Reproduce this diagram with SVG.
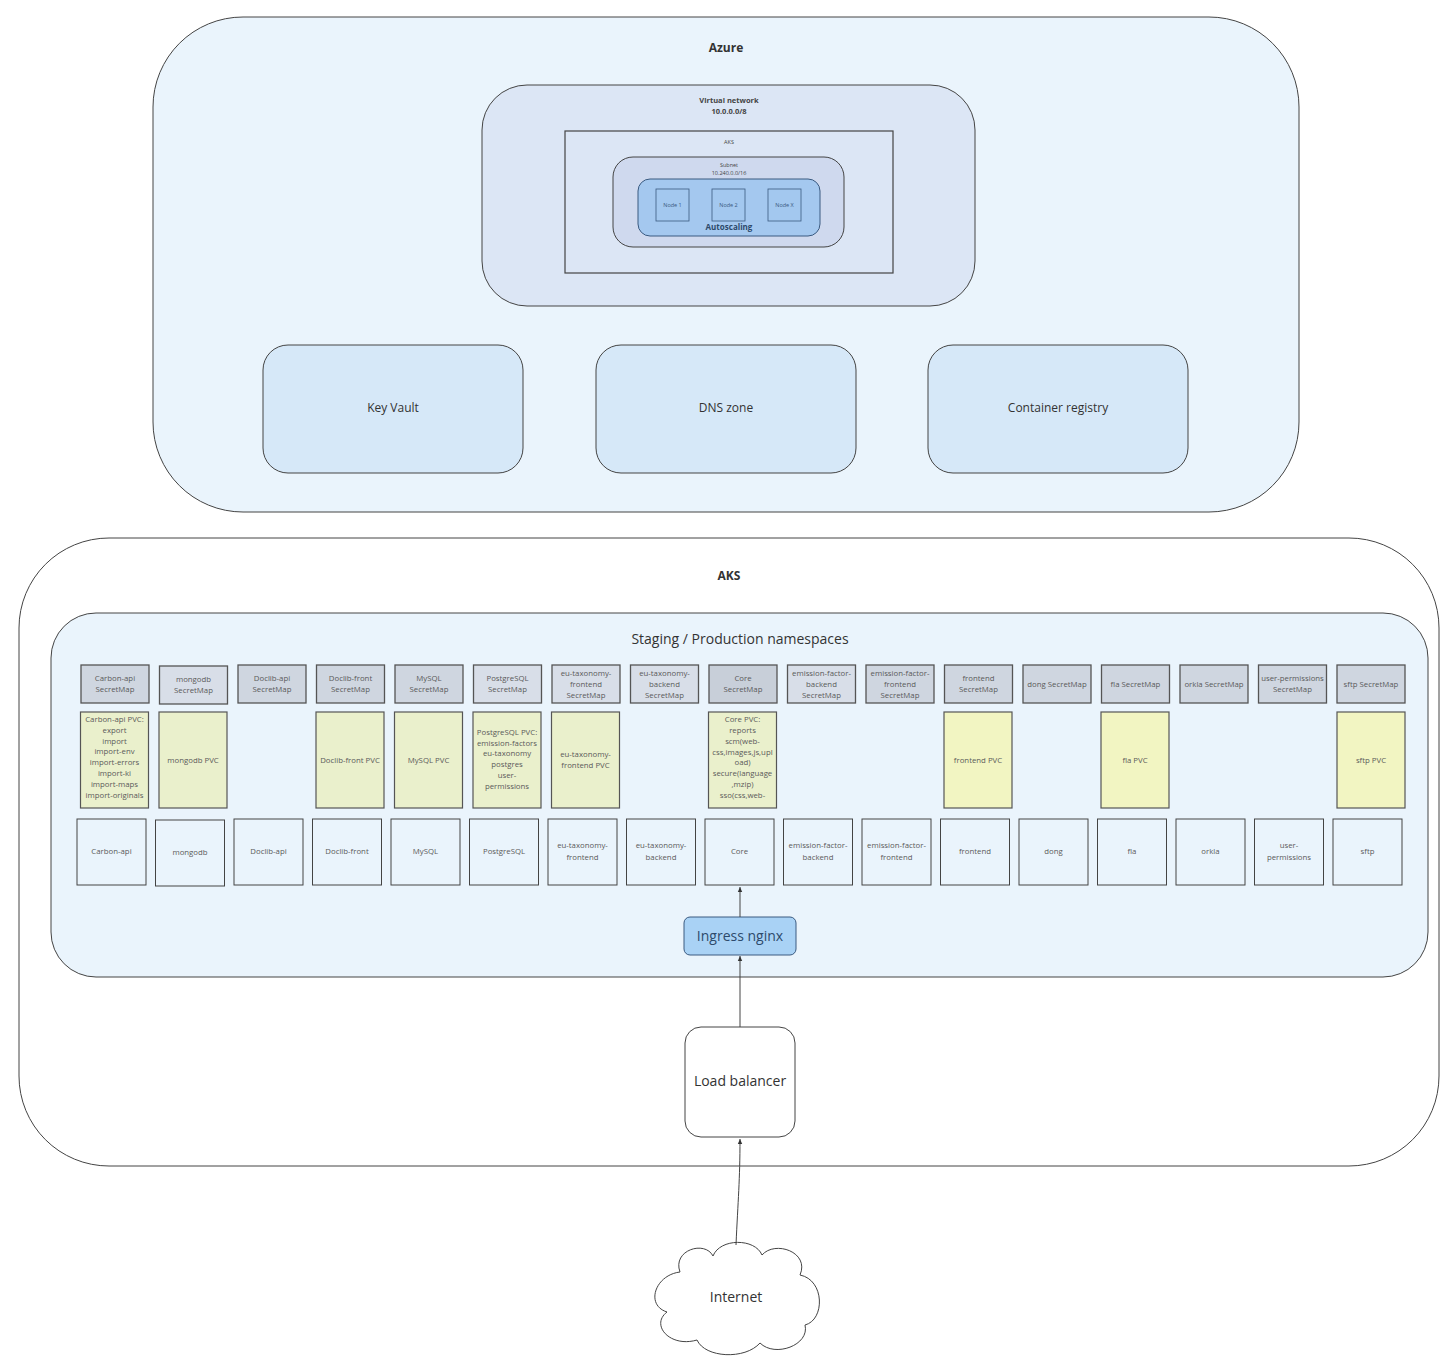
<svg xmlns="http://www.w3.org/2000/svg" width="1454" height="1361" viewBox="0 0 1454 1361">
<defs>
<style>
text{font-family:"Open Sans","Noto Sans","Liberation Sans",sans-serif;fill:#444;text-anchor:middle}
.sm{fill:#cfd6e0;stroke:#555;stroke-width:1.3}
.pvc{fill:#eaf0cc;stroke:#555;stroke-width:1.2}
.pvy{fill:#f2f5c2;stroke:#555;stroke-width:1.2}
.svc{fill:#eaf4fc;stroke:#444;stroke-width:1}
.t8{font-size:7.8px;fill:#5a5a5a}
.az{fill:#d6e8f8;stroke:#444;stroke-width:1}
.node{fill:#a3c8ef;stroke:#3a5a80;stroke-width:0.8}
.conn{stroke:#444;stroke-width:1;fill:none}
</style>
<marker id="arr" markerWidth="6" markerHeight="6" refX="5" refY="3" orient="auto" markerUnits="userSpaceOnUse">
<path d="M0,0.8 L5,3 L0,5.2 Z" fill="#333"/>
</marker>
</defs>
<rect width="1454" height="1361" fill="#ffffff"/>

<g id="azure">
<rect x="153" y="17" width="1146" height="495" rx="90" fill="#eaf4fc" stroke="#444" stroke-width="1"/>
<text x="726" y="52" font-size="12" font-weight="bold" style="fill:#333">Azure</text>
</g>
<g id="vnet">
<rect x="482" y="85" width="493" height="221" rx="45" fill="#dce6f5" stroke="#444" stroke-width="1"/>
<text x="729" y="103" font-size="7.5" font-weight="bold" style="fill:#444">Virtual network</text>
<text x="729" y="114" font-size="7.5" font-weight="bold" style="fill:#444">10.0.0.0/8</text>
</g>
<g id="aks-top">
<rect x="565" y="131" width="328" height="142" fill="#dce6f5" stroke="#444" stroke-width="1.2"/>
<text x="729" y="144" font-size="5.5" style="fill:#444">AKS</text>
</g>
<g id="subnet">
<rect x="613" y="157" width="231" height="90" rx="20" fill="#cfd9ee" stroke="#444" stroke-width="1"/>
<text x="729" y="167" font-size="5.5" style="fill:#444">Subnet</text>
<text x="729" y="175" font-size="5.5" style="fill:#444">10.240.0.0/16</text>
</g>
<g id="autoscaling">
<rect x="638" y="179" width="182" height="57" rx="12" fill="#a4c8ef" stroke="#3a5a80" stroke-width="1"/>
<text x="729" y="230" font-size="8" font-weight="bold" style="fill:#2d4a6b">Autoscaling</text>
</g>
<g id="node1"><rect class="node" x="656" y="189" width="33" height="32"/><text x="672.5" y="207" font-size="5.5" style="fill:#3a5a80">Node 1</text></g>
<g id="node2"><rect class="node" x="712" y="189" width="33" height="32"/><text x="728.5" y="207" font-size="5.5" style="fill:#3a5a80">Node 2</text></g>
<g id="nodex"><rect class="node" x="768" y="189" width="33" height="32"/><text x="784.5" y="207" font-size="5.5" style="fill:#3a5a80">Node X</text></g>

<g id="keyvault"><rect class="az" x="263" y="345" width="260" height="128" rx="25"/><text x="393" y="412" font-size="12" style="fill:#333">Key Vault</text></g>
<g id="dnszone"><rect class="az" x="596" y="345" width="260" height="128" rx="25"/><text x="726" y="412" font-size="12" style="fill:#333">DNS zone</text></g>
<g id="registry"><rect class="az" x="928" y="345" width="260" height="128" rx="25"/><text x="1058" y="412" font-size="12" style="fill:#333">Container registry</text></g>

<g id="aks">
<rect x="19" y="538" width="1420" height="628" rx="90" fill="#ffffff" stroke="#444" stroke-width="1"/>
<text x="729" y="580" font-size="12" font-weight="bold" style="fill:#333">AKS</text>
</g>
<g id="namespaces">
<rect x="51" y="613" width="1377" height="364" rx="45" fill="#eaf4fc" stroke="#444" stroke-width="1"/>
<text x="740" y="644" font-size="14" style="fill:#333">Staging / Production namespaces</text>
</g>

<!-- SecretMaps -->
<g id="sm-carbon"><rect class="sm" x="81" y="665" width="68" height="38"/><text class="t8" x="115" y="681">Carbon-api</text><text class="t8" x="115" y="692">SecretMap</text></g>
<g id="sm-mongodb"><rect class="sm" x="159.5" y="666" width="68" height="38" style="fill:#d8dee8"/><text class="t8" x="193.5" y="682">mongodb</text><text class="t8" x="193.5" y="693">SecretMap</text></g>
<g id="sm-docapi"><rect class="sm" x="238" y="665" width="68" height="38"/><text class="t8" x="272" y="681">Doclib-api</text><text class="t8" x="272" y="692">SecretMap</text></g>
<g id="sm-docfront"><rect class="sm" x="316.5" y="665" width="68" height="38"/><text class="t8" x="350.5" y="681">Doclib-front</text><text class="t8" x="350.5" y="692">SecretMap</text></g>
<g id="sm-mysql"><rect class="sm" x="395" y="665" width="68" height="38"/><text class="t8" x="429" y="681">MySQL</text><text class="t8" x="429" y="692">SecretMap</text></g>
<g id="sm-postgres"><rect class="sm" x="473.5" y="665" width="68" height="38" style="fill:#d8dee8"/><text class="t8" x="507.5" y="681">PostgreSQL</text><text class="t8" x="507.5" y="692">SecretMap</text></g>
<g id="sm-eutf"><rect class="sm" x="552" y="665" width="68" height="38" style="fill:#d8dee8"/><text class="t8" x="586" y="676">eu-taxonomy-</text><text class="t8" x="586" y="687">frontend</text><text class="t8" x="586" y="698">SecretMap</text></g>
<g id="sm-eutb"><rect class="sm" x="630.5" y="665" width="68" height="38" style="fill:#d8dee8"/><text class="t8" x="664.5" y="676">eu-taxonomy-</text><text class="t8" x="664.5" y="687">backend</text><text class="t8" x="664.5" y="698">SecretMap</text></g>
<g id="sm-core"><rect class="sm" x="709" y="665" width="68" height="38" style="fill:#c8cfd9"/><text class="t8" x="743" y="681">Core</text><text class="t8" x="743" y="692">SecretMap</text></g>
<g id="sm-efb"><rect class="sm" x="787.5" y="665" width="68" height="38" style="fill:#d8dee8"/><text class="t8" x="821.5" y="676">emission-factor-</text><text class="t8" x="821.5" y="687">backend</text><text class="t8" x="821.5" y="698">SecretMap</text></g>
<g id="sm-eff"><rect class="sm" x="866" y="665" width="68" height="38"/><text class="t8" x="900" y="676">emission-factor-</text><text class="t8" x="900" y="687">frontend</text><text class="t8" x="900" y="698">SecretMap</text></g>
<g id="sm-frontend"><rect class="sm" x="944.5" y="665" width="68" height="38"/><text class="t8" x="978.5" y="681">frontend</text><text class="t8" x="978.5" y="692">SecretMap</text></g>
<g id="sm-dong"><rect class="sm" x="1023" y="665" width="68" height="38"/><text class="t8" x="1057" y="687">dong SecretMap</text></g>
<g id="sm-fla"><rect class="sm" x="1101.5" y="665" width="68" height="38"/><text class="t8" x="1135.5" y="687">fla SecretMap</text></g>
<g id="sm-orkla"><rect class="sm" x="1180" y="665" width="68" height="38"/><text class="t8" x="1214" y="687">orkla SecretMap</text></g>
<g id="sm-userperm"><rect class="sm" x="1258.5" y="665" width="68" height="38"/><text class="t8" x="1292.5" y="681">user-permissions</text><text class="t8" x="1292.5" y="692">SecretMap</text></g>
<g id="sm-sftp"><rect class="sm" x="1337" y="665" width="68" height="38"/><text class="t8" x="1371" y="687">sftp SecretMap</text></g>

<!-- PVCs -->
<g id="pvc-carbon"><rect class="pvc" x="80.5" y="712" width="68" height="96"/>
<text class="t8" x="114.5" y="722">Carbon-api PVC:</text><text class="t8" x="114.5" y="733">export</text><text class="t8" x="114.5" y="743.5">import</text><text class="t8" x="114.5" y="754">import-env</text><text class="t8" x="114.5" y="765">import-errors</text><text class="t8" x="114.5" y="776">import-ki</text><text class="t8" x="114.5" y="787">import-maps</text><text class="t8" x="114.5" y="798">import-originals</text></g>
<g id="pvc-mongodb"><rect class="pvc" x="159" y="712" width="68" height="96"/><text class="t8" x="193" y="763">mongodb PVC</text></g>
<g id="pvc-docfront"><rect class="pvc" x="316" y="712" width="68" height="96"/><text class="t8" x="350" y="763">Doclib-front PVC</text></g>
<g id="pvc-mysql"><rect class="pvc" x="394.5" y="712" width="68" height="96"/><text class="t8" x="428.5" y="763">MySQL PVC</text></g>
<g id="pvc-postgres"><rect class="pvc" x="473" y="712" width="68" height="96"/>
<text class="t8" x="507" y="735">PostgreSQL PVC:</text><text class="t8" x="507" y="745.5">emission-factors</text><text class="t8" x="507" y="756">eu-taxonomy</text><text class="t8" x="507" y="767">postgres</text><text class="t8" x="507" y="778">user-</text><text class="t8" x="507" y="789">permissions</text></g>
<g id="pvc-eutf"><rect class="pvc" x="551.5" y="712" width="68" height="96"/><text class="t8" x="585.5" y="757">eu-taxonomy-</text><text class="t8" x="585.5" y="768">frontend PVC</text></g>
<g id="pvc-core"><rect class="pvc" x="708.5" y="712" width="68" height="96"/>
<text class="t8" x="742.5" y="722">Core PVC:</text><text class="t8" x="742.5" y="733">reports</text><text class="t8" x="742.5" y="744">scm(web-</text><text class="t8" x="742.5" y="754.5">css,images,js,upl</text><text class="t8" x="742.5" y="765">oad)</text><text class="t8" x="742.5" y="776">secure(language</text><text class="t8" x="742.5" y="787">,mzip)</text><text class="t8" x="742.5" y="798">sso(css,web-</text></g>
<g id="pvc-frontend"><rect class="pvy" x="944" y="712" width="68" height="96"/><text class="t8" x="978" y="763">frontend PVC</text></g>
<g id="pvc-fla"><rect class="pvy" x="1101" y="712" width="68" height="96"/><text class="t8" x="1135" y="763">fla PVC</text></g>
<g id="pvc-sftp"><rect class="pvy" x="1337" y="712" width="68" height="96"/><text class="t8" x="1371" y="763">sftp PVC</text></g>

<!-- Services -->
<g id="svc-carbon"><rect class="svc" x="77" y="819" width="69" height="66"/><text class="t8" x="111.5" y="854">Carbon-api</text></g>
<g id="svc-mongodb"><rect class="svc" x="155.5" y="820" width="69" height="66"/><text class="t8" x="190" y="855">mongodb</text></g>
<g id="svc-docapi"><rect class="svc" x="234" y="819" width="69" height="66"/><text class="t8" x="268.5" y="854">Doclib-api</text></g>
<g id="svc-docfront"><rect class="svc" x="312.5" y="819" width="69" height="66"/><text class="t8" x="347" y="854">Doclib-front</text></g>
<g id="svc-mysql"><rect class="svc" x="391" y="819" width="69" height="66"/><text class="t8" x="425.5" y="854">MySQL</text></g>
<g id="svc-postgres"><rect class="svc" x="469.5" y="819" width="69" height="66"/><text class="t8" x="504" y="854">PostgreSQL</text></g>
<g id="svc-eutf"><rect class="svc" x="548" y="819" width="69" height="66"/><text class="t8" x="582.5" y="848">eu-taxonomy-</text><text class="t8" x="582.5" y="860">frontend</text></g>
<g id="svc-eutb"><rect class="svc" x="626.5" y="819" width="69" height="66"/><text class="t8" x="661" y="848">eu-taxonomy-</text><text class="t8" x="661" y="860">backend</text></g>
<g id="svc-core"><rect class="svc" x="705" y="819" width="69" height="66"/><text class="t8" x="739.5" y="854">Core</text></g>
<g id="svc-efb"><rect class="svc" x="783.5" y="819" width="69" height="66"/><text class="t8" x="818" y="848">emission-factor-</text><text class="t8" x="818" y="860">backend</text></g>
<g id="svc-eff"><rect class="svc" x="862" y="819" width="69" height="66"/><text class="t8" x="896.5" y="848">emission-factor-</text><text class="t8" x="896.5" y="860">frontend</text></g>
<g id="svc-frontend"><rect class="svc" x="940.5" y="819" width="69" height="66"/><text class="t8" x="975" y="854">frontend</text></g>
<g id="svc-dong"><rect class="svc" x="1019" y="819" width="69" height="66"/><text class="t8" x="1053.5" y="854">dong</text></g>
<g id="svc-fla"><rect class="svc" x="1097.5" y="819" width="69" height="66"/><text class="t8" x="1132" y="854">fla</text></g>
<g id="svc-orkla"><rect class="svc" x="1176" y="819" width="69" height="66"/><text class="t8" x="1210.5" y="854">orkla</text></g>
<g id="svc-userperm"><rect class="svc" x="1254.5" y="819" width="69" height="66"/><text class="t8" x="1289" y="848">user-</text><text class="t8" x="1289" y="860">permissions</text></g>
<g id="svc-sftp"><rect class="svc" x="1333" y="819" width="69" height="66"/><text class="t8" x="1367.5" y="854">sftp</text></g>

<g id="ingress"><rect x="684" y="917" width="112" height="38" rx="6" fill="#a9d2f5" stroke="#3a5a80" stroke-width="1"/><text x="740" y="941" font-size="14" style="fill:#2d4a6b">Ingress nginx</text></g>
<g id="loadbalancer"><rect x="685" y="1027" width="110" height="110" rx="16" fill="#ffffff" stroke="#444" stroke-width="1"/><text x="740" y="1086" font-size="14" style="fill:#333">Load balancer</text></g>
<g id="internet">
<path d="M 680 1272 C 672 1250, 705 1240, 713 1256 C 720 1238, 755 1238, 762 1255 C 775 1240, 810 1252, 800 1275 C 825 1280, 825 1320, 805 1325 C 810 1345, 775 1358, 760 1343 C 745 1360, 705 1358, 697 1340 C 670 1348, 650 1325, 667 1312 C 645 1305, 655 1275, 680 1272 Z" fill="#ffffff" stroke="#444" stroke-width="1"/>
<text x="736" y="1302" font-size="14" style="fill:#333">Internet</text>
</g>

<g id="connectors">
<path class="conn" d="M740,917 L740,887" marker-end="url(#arr)"/>
<path class="conn" d="M740,1027 L740,956" marker-end="url(#arr)"/>
<path class="conn" d="M736,1245 C738,1200 740,1180 740,1139" marker-end="url(#arr)"/>
</g>
</svg>
